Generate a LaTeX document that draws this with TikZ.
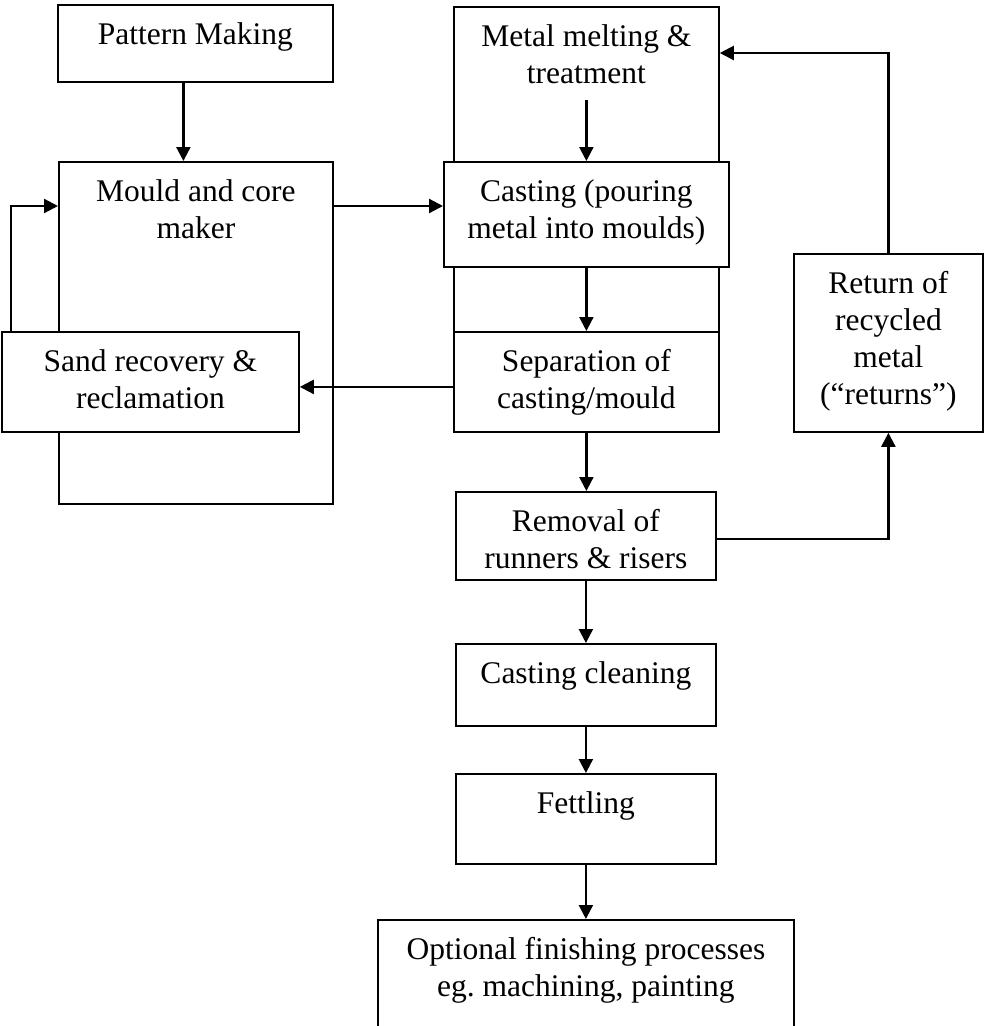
\documentclass[tikz,border=0pt]{standalone}
\usepackage{fontspec}
\setmainfont{Liberation Serif}
\usetikzlibrary{arrows.meta}
\newcommand\stagetext[3]{\parbox[t][#2pt][t]{#1pt}{\centering\rule{0pt}{40pt}#3}}
\begin{document}
\begin{tikzpicture}[
  x=1pt, y=-1pt,
  stage/.style = {draw, fill=white, line width=1.8pt, inner sep=0pt, anchor=north west,
                  font=\fontsize{31.5}{37}\selectfont},
  flow/.style = {line width=2.2pt, -{Triangle[length=14pt,width=14pt]}}
]
  \useasboundingbox (0,0) rectangle (984,1026);
  % left column
  \node[stage] (pattern) at (57,4) {\stagetext{275}{77}{Pattern Making}};
  \node[stage] (mould) at (58,161) {\stagetext{274}{342}{Mould and core\\maker}};
  \node[stage] (sand) at (1,331) {\stagetext{297}{100}{Sand recovery \&\\reclamation}};
  % main column
  \node[stage] (melting) at (453,6) {\stagetext{265}{344}{Metal melting \&\\treatment}};
  \node[stage] (casting) at (443,161) {\stagetext{285}{105}{Casting (pouring\\metal into moulds)}};
  \node[stage] (separation) at (453,331) {\stagetext{265}{100}{Separation of\\casting/mould}};
  \node[stage] (removal) at (455,491) {\stagetext{260}{88}{Removal of\\runners \& risers}};
  \node[stage] (cleaning) at (455,643) {\stagetext{260}{82}{Casting cleaning}};
  \node[stage] (fettling) at (455,773) {\stagetext{260}{90}{Fettling}};
  \node[stage] (optional) at (377,919) {\stagetext{416}{140}{Optional finishing processes\\eg.\ machining, painting}};
  % returns
  \node[stage] (return) at (793,253) {\stagetext{189}{178}{Return of\\recycled\\metal\\(“returns”)}};

  \draw[flow] ([xshift=-12pt]pattern.south) -- ([xshift=-12pt]pattern.south |- mould.north);
  \draw[flow] ([yshift=-94pt]melting.north) -- (casting.north);
  \draw[flow] (casting.south) -- (separation.north);
  \draw[flow] (separation.south) -- (separation.south |- removal.north);
  \draw[flow] (removal.south) -- (cleaning.north);
  \draw[flow] (cleaning.south) -- (fettling.north);
  \draw[flow] (fettling.south) -- (optional.north);
  \draw[flow] ([yshift=-5pt]separation.west) -- ([yshift=-5pt]sand.east);
  \draw[flow] ([xshift=10pt]sand.north west) |- ([yshift=-45pt]mould.north west);
  \draw[flow] ([yshift=-45pt]mould.north east) -- ([yshift=-45pt]casting.north west);
  \draw[flow] ([yshift=-3pt]removal.east) -| (return.south);
  \draw[flow] (return.north) |- ([yshift=-47pt]melting.north east);
\end{tikzpicture}
\end{document}
